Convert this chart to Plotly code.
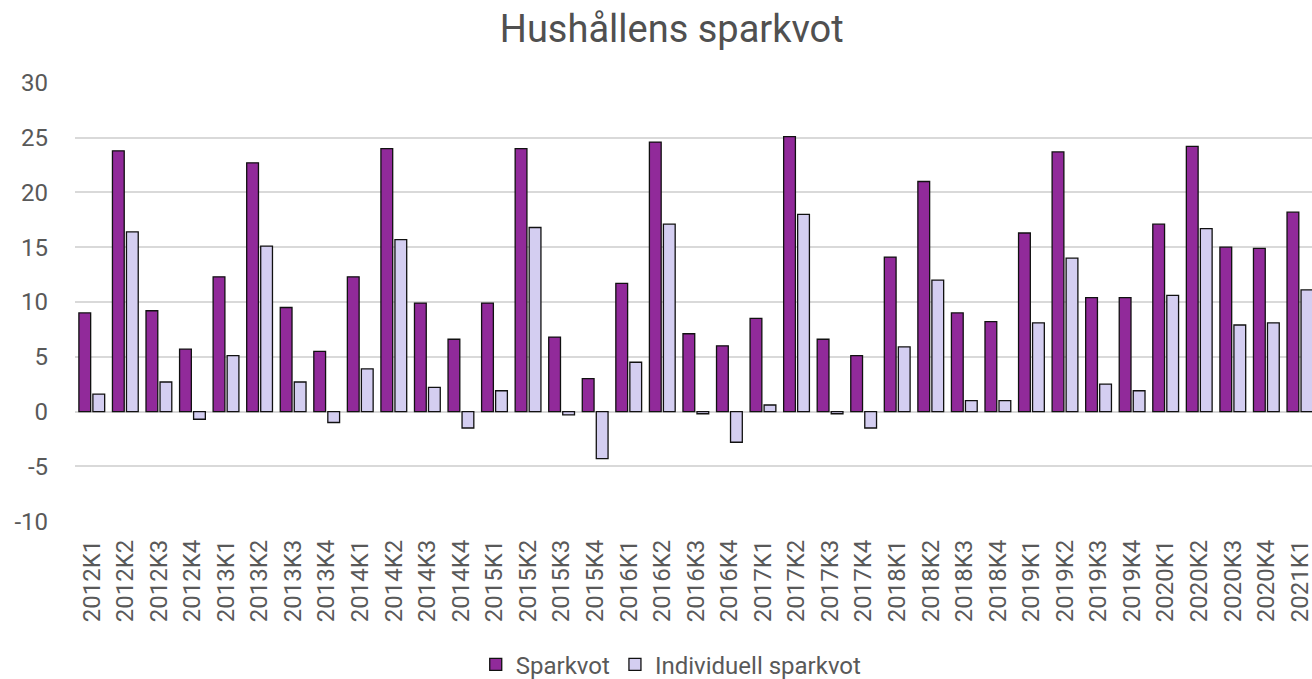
import plotly.graph_objects as go

quarters = ["2012K1","2012K2","2012K3","2012K4","2013K1","2013K2","2013K3","2013K4",
            "2014K1","2014K2","2014K3","2014K4","2015K1","2015K2","2015K3","2015K4",
            "2016K1","2016K2","2016K3","2016K4","2017K1","2017K2","2017K3","2017K4",
            "2018K1","2018K2","2018K3","2018K4","2019K1","2019K2","2019K3","2019K4",
            "2020K1","2020K2","2020K3","2020K4","2021K1"]
sparkvot = [9.0, 23.8, 9.2, 5.7, 12.3, 22.7, 9.5, 5.5,
            12.3, 24.0, 9.9, 6.6, 9.9, 24.0, 6.8, 3.0,
            11.7, 24.6, 7.1, 6.0, 8.5, 25.1, 6.6, 5.1,
            14.1, 21.0, 9.0, 8.2, 16.3, 23.7, 10.4, 10.4,
            17.1, 24.2, 15.0, 14.9, 18.2]
individuell = [1.6, 16.4, 2.7, -0.7, 5.1, 15.1, 2.7, -1.0,
               3.9, 15.7, 2.2, -1.5, 1.9, 16.8, -0.3, -4.3,
               4.5, 17.1, -0.2, -2.8, 0.6, 18.0, -0.2, -1.5,
               5.9, 12.0, 1.0, 1.0, 8.1, 14.0, 2.5, 1.9,
               10.6, 16.7, 7.9, 8.1, 11.1]
y_ticks = [-10, -5, 0, 5, 10, 15, 20, 25, 30]
y_ticktext = ["-10", "-5", "0", "5", "10", "15", "20", "25", "30"]

fig = go.Figure()
fig.add_trace(go.Bar(x=quarters, y=sparkvot, name="Sparkvot",
                     marker=dict(color="#912A9A", line=dict(color="#111111", width=1.3))))
fig.add_trace(go.Bar(x=quarters, y=individuell, name="Individuell sparkvot",
                     marker=dict(color="#D4CEF1", line=dict(color="#111111", width=1.3))))

fig.update_layout(
    width=1312, height=679,
    paper_bgcolor="white", plot_bgcolor="white",
    font=dict(family="Roboto", color="#595959", size=24),
    title=dict(text="Hushållens sparkvot", x=0.512, xanchor="center", y=0.958, yanchor="middle",
               font=dict(size=38, color="#505050")),
    barmode="group", bargap=0.165, bargroupgap=0.16,
    margin=dict(l=75, r=0, t=82, b=157),
    showlegend=True,
    legend=dict(orientation="h", x=0.482, xanchor="center", yref="container", y=0.021, yanchor="middle",
                font=dict(size=24, color="#595959"), traceorder="normal", itemwidth=30),
    xaxis=dict(type="category", tickangle=-90, range=[-0.5, 36.36], showgrid=False,
               showline=False, ticks="", automargin=False, ticklabelstandoff=12,
               tickfont=dict(size=24, color="#595959")),
    yaxis=dict(range=[-10.08, 30.08], tickvals=y_ticks, ticktext=y_ticktext, showgrid=True,
               gridcolor="#D9D9D9", gridwidth=1.5, zeroline=False, showline=False, ticks="",
               automargin=False, ticklabelstandoff=26, tickfont=dict(size=24, color="#595959")),
)

fig.write_html("out.html", config={"displayModeBar": False},
               post_script="document.body.style.margin='0';")
